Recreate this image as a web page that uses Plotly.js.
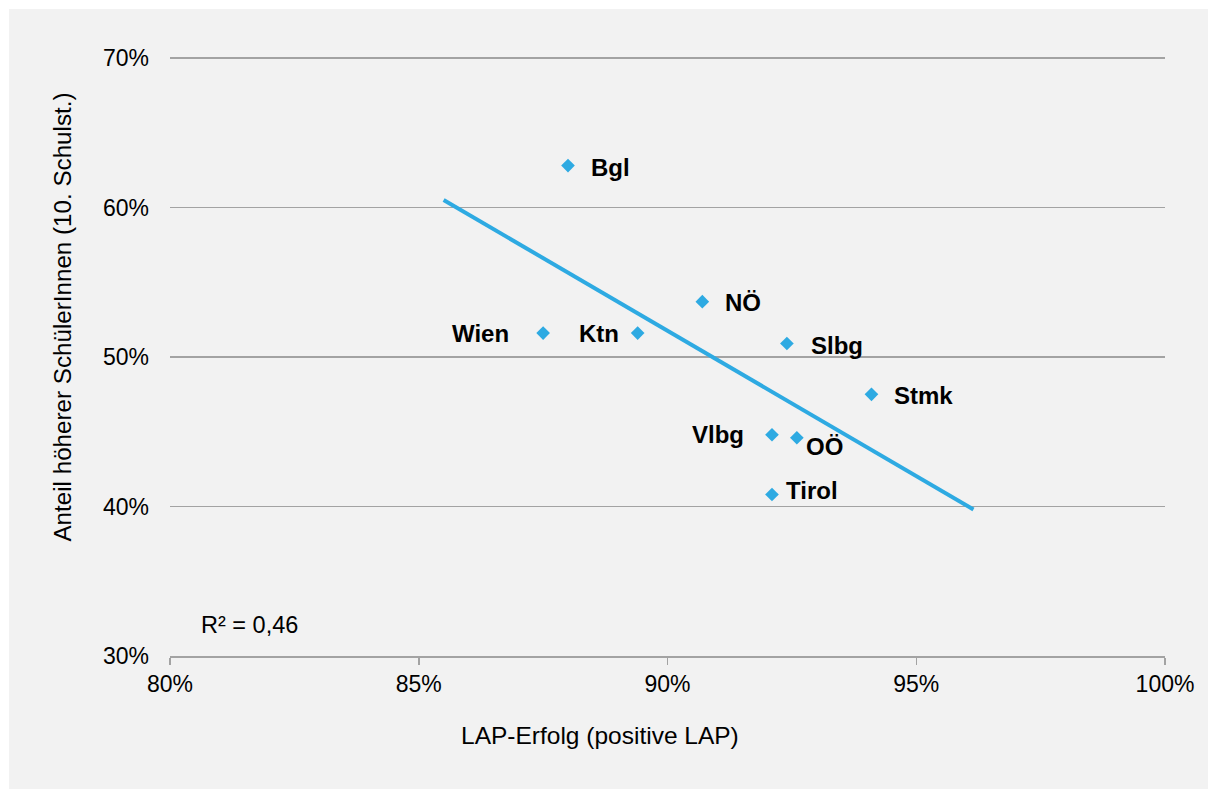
<!DOCTYPE html>
<html>
<head>
<meta charset="utf-8">
<script src="https://cdn.plot.ly/plotly-3.0.1.min.js"></script>
<style>
  html, body { margin: 0; padding: 0; background: #ffffff; }
  #chart { position: absolute; left: 9px; top: 9px; width: 1199px; height: 780px; }
</style>
</head>
<body>
<div id="chart"></div>
<script>
// ---- data ----
const regions = ['Bgl', 'NÖ', 'Wien', 'Ktn', 'Slbg', 'Stmk', 'Vlbg', 'OÖ', 'Tirol'];
const lapSuccess = [0.880, 0.907, 0.875, 0.894, 0.924, 0.941, 0.921, 0.926, 0.921];
const higherShare = [0.628, 0.537, 0.516, 0.516, 0.509, 0.475, 0.448, 0.446, 0.408];
const trendX = [0.855, 0.9615];
const trendY = [0.605, 0.398];
const xTickVals = [0.80, 0.85, 0.90, 0.95, 1.00];
const xTickText = ['80%', '85%', '90%', '95%', '100%'];
const yTickVals = [0.30, 0.40, 0.50, 0.60, 0.70];
const yTickText = ['30%', '40%', '50%', '60%', '70%'];
const rSquaredText = 'R² = 0,46';
const xTitle = 'LAP-Erfolg (positive LAP)';
const yTitle = 'Anteil höherer SchülerInnen (10. Schulst.)';

// ---- label placement (styling) ----
const labelStyle = {
  'Bgl':  {xanchor: 'left',  xshift: 21,  yshift: -2},
  'NÖ':   {xanchor: 'left',  xshift: 21,  yshift: -1},
  'Wien': {xanchor: 'right', xshift: -32, yshift: 0},
  'Ktn':  {xanchor: 'right', xshift: -17, yshift: 0},
  'Slbg': {xanchor: 'left',  xshift: 22,  yshift: -2},
  'Stmk': {xanchor: 'left',  xshift: 21,  yshift: -1},
  'Vlbg': {xanchor: 'right', xshift: -26, yshift: 0},
  'OÖ':   {xanchor: 'left',  xshift: 7,   yshift: -9},
  'Tirol':{xanchor: 'left',  xshift: 12,  yshift: 4}
};

const BLUE = '#2eaae2';
const GRID = '#a3a3a3';
const FONT = 'Liberation Sans, Arial, sans-serif';

const traces = [
  {
    x: trendX, y: trendY, mode: 'lines', type: 'scatter',
    line: {color: BLUE, width: 4}, hoverinfo: 'skip', showlegend: false
  },
  {
    x: lapSuccess, y: higherShare, mode: 'markers', type: 'scatter',
    marker: {symbol: 'diamond', size: 10.5, color: BLUE},
    text: regions, showlegend: false
  }
];

// plot area: y from 0.30 to 0.71 over 613px (t=34, b=133); plot domain fraction of 613 px
const PH = 613;
const annotations = regions.map((r, i) => Object.assign({
  x: lapSuccess[i], y: higherShare[i], xref: 'x', yref: 'y',
  text: '<b>' + r + '</b>', showarrow: false, yanchor: 'middle',
  font: {family: FONT, size: 24, color: '#000000'}
}, labelStyle[r]));

annotations.push({
  xref: 'paper', yref: 'paper', x: 0.029, y: 31 / PH, xanchor: 'left', yanchor: 'middle',
  text: rSquaredText, showarrow: false,
  font: {family: FONT, size: 23.5, color: '#000000'}
});
annotations.push({
  xref: 'paper', yref: 'paper', x: 0.432, y: -79 / PH, xanchor: 'center', yanchor: 'middle',
  text: xTitle, showarrow: false,
  font: {family: FONT, size: 24.5, color: '#000000'}
});
annotations.push({
  xref: 'paper', yref: 'paper', x: -0.109, y: 339 / PH, xanchor: 'center', yanchor: 'middle',
  text: yTitle, showarrow: false, textangle: -90,
  font: {family: FONT, size: 24.2, color: '#000000'}
});

const layout = {
  width: 1199, height: 780,
  paper_bgcolor: '#f2f2f2', plot_bgcolor: '#f2f2f2',
  margin: {l: 161, r: 43, t: 34, b: 133},
  font: {family: FONT, size: 23, color: '#000000'},
  showlegend: false,
  xaxis: {
    range: [0.80, 1.00], tickmode: 'array', tickvals: xTickVals, ticktext: xTickText,
    showgrid: false, zeroline: false, showline: true, linecolor: GRID, linewidth: 1.5,
    ticks: 'outside', ticklen: 7, tickcolor: GRID, tickwidth: 1.5,
    tickfont: {family: FONT, size: 23, color: '#000000'}, ticklabelstandoff: 0
  },
  yaxis: {
    range: [0.30, 0.71], tickmode: 'array', tickvals: yTickVals, ticktext: yTickText,
    showgrid: true, gridcolor: GRID, gridwidth: 1.3, zeroline: false, showline: false,
    ticks: '', tickfont: {family: FONT, size: 23, color: '#000000'}, ticklabelstandoff: 20
  },
  annotations: annotations
};

Plotly.newPlot('chart', traces, layout, {displayModeBar: false, staticPlot: true});
</script>
</body>
</html>
